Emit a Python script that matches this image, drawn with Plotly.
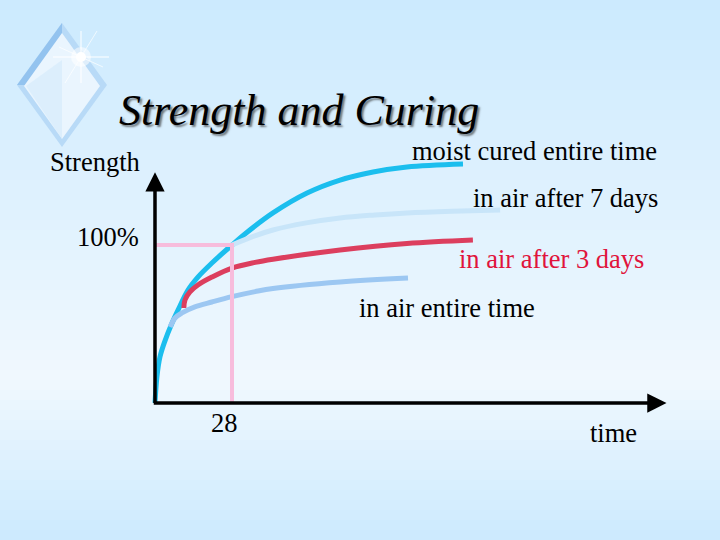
import plotly.graph_objects as go

# curves: x = days, y = strength in %
moist_x = [0, 0.7, 1.8, 3.6, 6.2, 8.4, 12.0, 15.6, 20.7, 28, 32.7, 42.9, 55.3, 67.3, 79.3, 91.6, 112]
moist_y = [0, 16.5, 29.1, 39.2, 50.6, 58.9, 71.5, 79.7, 88.6, 100, 107, 120.3, 132.9, 141.1, 146.2, 149.4, 151.3]

air7_x = [28, 35, 42.9, 55, 67.3, 80, 91.6, 108, 125.5]
air7_y = [100, 105, 109.5, 114, 117.1, 119, 120.3, 121.4, 122.2]

air3_x = [10.5, 10.9, 12.7, 15.6, 20.7, 28, 36.4, 42.9, 67.3, 91.6, 115.6]
air3_y = [60.1, 65.2, 70.3, 74.7, 79.7, 85.4, 89.0, 91.0, 96.8, 101.0, 103.2]

air_x = [5.5, 7.3, 9.8, 14.5, 20.7, 28, 36.4, 42.9, 67.3, 92]
air_y = [48.1, 53.8, 57.0, 60.8, 63.9, 67.3, 70.5, 72.5, 76.6, 79.1]

# 100% at 28 days guide
ref_x = [0, 28, 28]
ref_y = [100, 100, 0]

axis_x_end = 186
axis_y_end = 146

W, H = 720, 540


def px(x):
    return x / W


def py(y):
    return 1 - y / H


def lerp(c1, c2, t):
    return tuple(round(a + (b - a) * t) for a, b in zip(c1, c2))


fig = go.Figure()

line_style = dict(shape="spline", smoothing=1.0)
fig.add_trace(go.Scatter(x=moist_x, y=moist_y, mode="lines",
                         line=dict(color="#1BBEEE", width=5, **line_style)))
fig.add_trace(go.Scatter(x=air7_x, y=air7_y, mode="lines",
                         line=dict(color="#C8E5F9", width=5, **line_style)))
fig.add_trace(go.Scatter(x=air3_x, y=air3_y, mode="lines",
                         line=dict(color="#DC3E5E", width=5, **line_style)))
fig.add_trace(go.Scatter(x=air_x, y=air_y, mode="lines",
                         line=dict(color="#9CC7F2", width=5, **line_style)))
fig.add_trace(go.Scatter(x=ref_x, y=ref_y, mode="lines",
                         line=dict(color="#F7BCDC", width=4)))

shapes = []
# background gradient: blue at top, almost white near the x axis, blue again at bottom
top = (204, 234, 254)
mid = (240, 248, 254)
n = 54
for i in range(n):
    y0 = i * H / n
    yc = y0 + H / n / 2
    if yc < 380:
        c = lerp(top, mid, yc / 380)
    else:
        c = lerp(mid, top, (yc - 380) / 160)
    shapes.append(dict(type="rect", xref="paper", yref="paper", layer="below",
                       x0=0, x1=1, y0=py(y0 + H / n + 1), y1=py(y0),
                       fillcolor="rgb(%d,%d,%d)" % c, line=dict(width=0)))


# diamond decoration
def diamond(cx, cy, rx, ry):
    return "M %f %f L %f %f L %f %f L %f %f Z" % (
        px(cx), py(cy - ry), px(cx + rx), py(cy), px(cx), py(cy + ry), px(cx - rx), py(cy))


shapes.append(dict(type="path", xref="paper", yref="paper", path=diamond(62, 85, 45, 62),
                   fillcolor="#B8DAF7", line=dict(width=0)))
shapes.append(dict(type="path", xref="paper", yref="paper",
                   path="M %f %f L %f %f L %f %f Z" % (px(62), py(23), px(17), py(85), px(62), py(85)),
                   fillcolor="#93C3EF", line=dict(width=0)))
shapes.append(dict(type="path", xref="paper", yref="paper", path=diamond(62, 86, 38, 53),
                   fillcolor="#EAF5FE", line=dict(width=0)))
shapes.append(dict(type="path", xref="paper", yref="paper",
                   path="M %f %f L %f %f L %f %f Z" % (px(26), py(86), px(62), py(139), px(62), py(60)),
                   fillcolor="rgba(205,230,250,0.45)", line=dict(width=0)))
# sparkle
sx, sy = 81, 57
for dx, dy, w in [(28, 0, 1.2), (-28, 0, 1.2), (0, -26, 1.2), (0, 26, 1.2),
                  (16, -26, 0.8), (-16, 26, 0.8), (22, 10, 0.8), (-22, -10, 0.8)]:
    shapes.append(dict(type="line", xref="paper", yref="paper",
                       x0=px(sx), y0=py(sy), x1=px(sx + dx), y1=py(sy + dy),
                       line=dict(color="rgba(255,255,255,0.85)", width=w)))
shapes.append(dict(type="circle", xref="paper", yref="paper",
                   x0=px(sx - 10), x1=px(sx + 10), y0=py(sy + 10), y1=py(sy - 10),
                   fillcolor="rgba(255,255,255,0.55)", line=dict(width=0)))
shapes.append(dict(type="circle", xref="paper", yref="paper",
                   x0=px(sx - 5), x1=px(sx + 5), y0=py(sy + 5), y1=py(sy - 5),
                   fillcolor="white", line=dict(width=0)))

serif = "Liberation Serif, Times New Roman, serif"
annotations = []

# axes with arrow heads
annotations.append(dict(x=0, y=axis_y_end, ax=0, ay=-1, xref="x", yref="y", axref="x", ayref="y",
                        text="", showarrow=True, arrowhead=2, arrowsize=1.1, arrowwidth=3.5,
                        arrowcolor="black"))
annotations.append(dict(x=axis_x_end, y=0, ax=-1, ay=0, xref="x", yref="y", axref="x", ayref="y",
                        text="", showarrow=True, arrowhead=2, arrowsize=1.1, arrowwidth=3.5,
                        arrowcolor="black"))

# title, drop shadow done with the font's own text shadow
annotations.append(dict(x=px(117), y=py(110), xref="paper", yref="paper",
                        text="<i>Strength and Curing</i>",
                        showarrow=False, xanchor="left", yanchor="middle",
                        font=dict(family=serif, size=44, color="black",
                                  shadow="2px 2px 2px rgba(40,40,40,0.6)")))


def label(text, x, y, anchor="left", color="black"):
    annotations.append(dict(x=px(x), y=py(y), xref="paper", yref="paper", text=text,
                            showarrow=False, xanchor=anchor, yanchor="middle",
                            font=dict(family=serif, size=26.5, color=color)))


label("Strength", 48, 162)
label("100%", 75, 237)
label("28", 224, 423, anchor="center")
label("time", 588, 433)
label("moist cured entire time", 410, 151)
label("in air after 7 days", 471, 198)
label("in air after 3 days", 457, 259, color="#E0143C")
label("in air entire time", 357, 308)

fig.update_layout(
    width=W, height=H,
    margin=dict(l=0, r=0, t=0, b=0),
    paper_bgcolor="#D4EDFE",
    plot_bgcolor="rgba(0,0,0,0)",
    showlegend=False,
    shapes=shapes,
    annotations=annotations,
    xaxis=dict(range=[-56.36, 205.45], visible=False, fixedrange=True),
    yaxis=dict(range=[-86.71, 255.06], visible=False, fixedrange=True),
)

fig.write_html("out.html", config=dict(displayModeBar=False),
               post_script="document.body.style.margin='0';document.body.style.overflow='hidden';")
